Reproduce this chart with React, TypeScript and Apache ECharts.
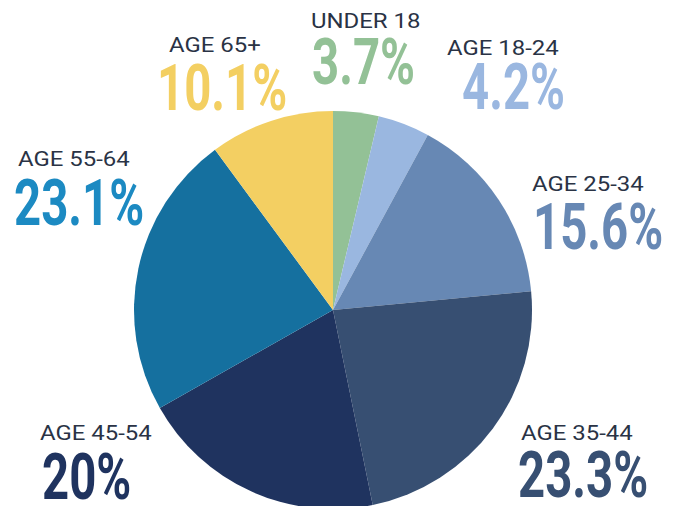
import React, { useEffect, useRef } from "react";
import * as echarts from "echarts";

// ---- data ----
const categories = ["UNDER 18", "AGE 18-24", "AGE 25-34", "AGE 35-44", "AGE 45-54", "AGE 55-64", "AGE 65+"];
const values = [3.7, 4.2, 15.6, 23.3, 20, 23.1, 10.1];

// ---- styles ----
const sliceColors = ["#93C196", "#9AB7E0", "#6788B4", "#374F72", "#1F335F", "#15709F", "#F3CF62"];
const valueColors = ["#93C196", "#9AB7E0", "#6788B4", "#374F72", "#1F335F", "#1C8AC2", "#F3CF62"];
// label anchor: left x, cap-centre y of category text, left x, cap-centre y of value text
const labelLayout = [
  [311, 21, 312, 62.5],
  [447, 48, 462, 87],
  [532, 184, 533, 227.5],
  [521, 432.5, 518, 475],
  [40, 432.5, 42, 477],
  [18, 159, 14, 203],
  [169, 45, 157, 88],
];

const SMALL_FONT = "21px Roboto, 'Noto Sans', sans-serif";
const BIG_FONT = "bold 64px Roboto, 'Noto Sans', sans-serif";

export default function App() {
  const ref = useRef<HTMLDivElement>(null);
  useEffect(() => {
    document.body.style.margin = "0";
    const chart = echarts.init(ref.current!, null, { renderer: "svg" });
    const graphics: any[] = [];
    categories.forEach((c, i) => {
      const [sx, sy, bx, by] = labelLayout[i];
      graphics.push({
        type: "text",
        x: sx,
        y: sy,
        scaleX: 1.14,
        style: { text: c, x: 0, y: 0, font: SMALL_FONT, fill: "#2A3345", align: "left", verticalAlign: "middle" },
      });
      graphics.push({
        type: "text",
        x: bx,
        y: by,
        scaleX: 0.74,
        style: { text: `${values[i]}%`, x: 0, y: 0, font: BIG_FONT, fill: valueColors[i], align: "left", verticalAlign: "middle" },
      });
    });
    chart.setOption({
      animation: false,
      backgroundColor: "#ffffff",
      series: [
        {
          type: "pie",
          center: [333, 310],
          radius: 199,
          startAngle: 90,
          clockwise: true,
          label: { show: false },
          labelLine: { show: false },
          emphasis: { disabled: true },
          itemStyle: { borderWidth: 0 },
          data: categories.map((c, i) => ({ name: c, value: values[i], itemStyle: { color: sliceColors[i] } })),
        },
      ],
      graphic: graphics,
    });
    return () => chart.dispose();
  }, []);
  return <div ref={ref} style={{ width: 675, height: 506 }} />;
}
